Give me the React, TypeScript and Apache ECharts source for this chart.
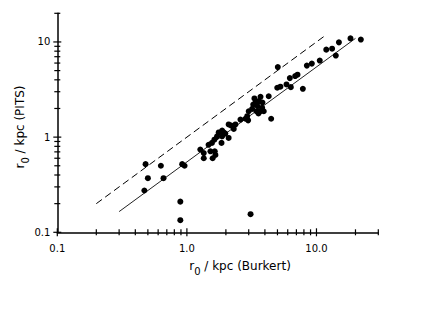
import { useEffect, useRef } from 'react';
import * as echarts from 'echarts';

// r0 from Burkert fits (x) and from PITS fits (y), kpc
const burkertR0 = [
  0.48, 0.50, 0.47, 0.63, 0.66, 0.92, 0.96, 0.89, 0.89, 3.1,
  1.27, 1.35, 1.35, 1.47, 1.56, 1.52, 1.64, 1.66, 1.58, 1.63,
  1.71, 1.76, 1.87, 1.85, 1.87, 1.92, 2.10, 1.98, 2.10, 2.30,
  2.37, 2.59, 2.83, 2.92, 3.00, 3.19, 3.25, 3.38, 3.59, 3.70,
  3.52, 3.81, 3.70, 3.44, 3.92, 4.28, 4.47, 4.98, 5.27, 5.87,
  6.23, 6.85, 7.14, 7.85, 5.03, 8.43, 9.21, 10.6, 11.9, 13.2,
  14.1, 14.9, 18.3, 22.0, 6.34, 3.32, 3.83, 3.57, 2.20, 2.97,
];
const pitsR0 = [
  0.52, 0.37, 0.275, 0.50, 0.37, 0.52, 0.50, 0.21, 0.134, 0.155,
  0.74, 0.68, 0.60, 0.83, 0.87, 0.71, 0.71, 0.65, 0.60, 0.94,
  1.02, 1.12, 1.02, 0.87, 1.17, 1.12, 1.36, 1.09, 0.98, 1.22,
  1.36, 1.53, 1.56, 1.66, 1.87, 1.98, 2.20, 2.29, 2.39, 2.65,
  2.11, 2.03, 1.87, 1.87, 1.87, 2.69, 1.56, 3.30, 3.39, 3.58,
  4.17, 4.38, 4.53, 3.22, 5.45, 5.64, 5.92, 6.37, 8.3, 8.5,
  7.2, 9.9, 10.9, 10.6, 3.35, 2.55, 2.31, 1.77, 1.32, 1.50,
];

// one-to-one line (dashed) and fitted relation (solid)
const equalityLine = [[0.2, 0.2], [11.5, 11.5]];
const fitLine = [[0.3, 0.165], [20, 10.9]];

const xMajorTicks = [0.1, 1, 10];
const xMinorTicks = [0.2, 0.3, 0.4, 0.5, 0.6, 0.7, 0.8, 0.9, 2, 3, 4, 5, 6, 7, 8, 9, 20, 30];
const yMajorTicks = [0.1, 1, 10];
const yMinorTicks = [0.2, 0.3, 0.4, 0.5, 0.6, 0.7, 0.8, 0.9, 2, 3, 4, 5, 6, 7, 8, 9, 20];

const X_MIN = 0.1, X_MAX = 30, Y_MIN = 0.1, Y_MAX = 20;
const FONT = 'DejaVu Sans';

function isDecade(v: number) {
  const l = Math.log10(v);
  return Math.abs(l - Math.round(l)) < 1e-6;
}

function tickSeries(values: number[], axis: 'x' | 'y', half: number) {
  return {
    type: 'custom',
    silent: true,
    clip: false,
    data: values.map((v) => (axis === 'x' ? [v, Y_MIN] : [X_MIN, v])),
    renderItem: (_p: any, api: any) => {
      const pt = api.coord([api.value(0), api.value(1)]);
      const shape = axis === 'x'
        ? { x1: pt[0], y1: pt[1] - half, x2: pt[0], y2: pt[1] + half }
        : { x1: pt[0] - half, y1: pt[1], x2: pt[0] + half, y2: pt[1] };
      return { type: 'line', shape, style: { stroke: '#000', lineWidth: 1.2 } };
    },
    z: 5,
  };
}

export default function App() {
  const ref = useRef<HTMLDivElement>(null);
  useEffect(() => {
    if (!ref.current) return;
    const chart = echarts.init(ref.current, undefined, { renderer: 'svg' });
    const titleRich = {
      a: { fontFamily: FONT, fontSize: 12, color: '#000', lineHeight: 14, verticalAlign: 'top' },
      b: { fontFamily: FONT, fontSize: 10, color: '#000', lineHeight: 16.5, verticalAlign: 'bottom' },
    };
    chart.setOption({
      animation: false,
      backgroundColor: '#fff',
      grid: { left: 57.3, right: 55.7, top: 13.3, bottom: 77.7, containLabel: false },
      xAxis: {
        type: 'log', logBase: 10, min: X_MIN, max: X_MAX,
        axisLine: { show: true, onZero: false, lineStyle: { color: '#000', width: 1.5 } },
        axisTick: { show: false },
        splitLine: { show: false },
        minorTick: { show: false },
        axisLabel: {
          margin: 11, fontFamily: FONT, fontSize: 10, color: '#000',
          formatter: (v: number) => (isDecade(v) ? (v < 1 ? '0.1' : Math.round(v).toFixed(1)) : ''),
        },
      },
      yAxis: {
        type: 'log', logBase: 10, min: Y_MIN, max: Y_MAX,
        axisLine: { show: true, onZero: false, lineStyle: { color: '#000', width: 1.5 } },
        axisTick: { show: false },
        splitLine: { show: false },
        minorTick: { show: false },
        axisLabel: {
          margin: 7, fontFamily: FONT, fontSize: 10, color: '#000',
          formatter: (v: number) => (isDecade(v) ? (v < 1 ? '0.1' : String(Math.round(v))) : ''),
        },
      },
      graphic: [
        {
          type: 'text', x: 240, y: 268,
          style: {
            text: '{a|r}{b|0}{a| / kpc (Burkert)}', rich: titleRich,
            align: 'center', verticalAlign: 'middle',
          },
        },
        {
          type: 'text', x: 22, y: 127, rotation: Math.PI / 2,
          style: {
            text: '{a|r}{b|0}{a| / kpc (PITS)}', rich: titleRich,
            align: 'center', verticalAlign: 'middle',
          },
        },
      ],
      series: [
        {
          type: 'line', data: equalityLine, showSymbol: false, silent: true,
          lineStyle: { color: '#000', width: 1, type: [7, 4] },
        },
        {
          type: 'line', data: fitLine, showSymbol: false, silent: true,
          lineStyle: { color: '#222', width: 1 },
        },
        {
          type: 'scatter', symbol: 'circle', symbolSize: 6,
          data: burkertR0.map((x, i) => [x, pitsR0[i]]),
          itemStyle: { color: '#000', opacity: 1 },
          z: 4,
        },
        tickSeries(xMajorTicks, 'x', 4),
        tickSeries(xMinorTicks, 'x', 3),
        tickSeries(yMajorTicks, 'y', 4),
        tickSeries(yMinorTicks, 'y', 3),
      ],
    });
    return () => chart.dispose();
  }, []);
  return (
    <div
      ref={ref}
      style={{ position: 'fixed', left: 0, top: 0, width: 434, height: 310, background: '#fff' }}
    />
  );
}
